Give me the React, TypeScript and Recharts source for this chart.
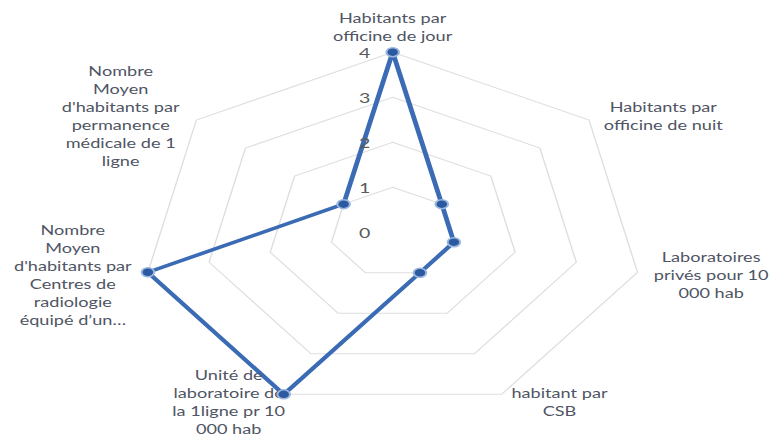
import React from "react";
import {
  RadarChart,
  Radar,
  PolarGrid,
  PolarAngleAxis,
  PolarRadiusAxis,
} from "recharts";

// axis labels, clockwise from the top (lines as Excel wrapped them)
const categories: string[][] = [
  ["Habitants par", "officine de jour"],
  ["Habitants par", "officine de nuit"],
  ["Laboratoires", "privés pour 10", "000 hab"],
  ["habitant par", "CSB"],
  ["Unité de", "laboratoire de", "la 1ligne pr 10", "000 hab"],
  ["Nombre", "Moyen", "d'habitants par", "Centres de", "radiologie", "équipé d’un…"],
  ["Nombre", "Moyen", "d'habitants par", "permanence", "médicale de 1", "ligne"],
];
const values = [4, 1, 1, 1, 4, 4, 1];
const radiusTicks = [0, 1, 2, 3, 4];

const data = categories.map((lines, i) => ({
  key: String(i),
  value: values[i],
}));

// the source picture is stretched sideways, so draw narrow then scale
const SX = 1.395;
const W = 778 / SX;
const H = 436;
const CX = 281.5;
const CY = 232.2;
const R = 180;

const TEXT = "#4f5564";
const BLUE = "#3a6bb4";
const FONT = "Lato, 'Open Sans', sans-serif";
const LINE_H = 18;

// nudge of each label block from the library's tick point
const labelShift = [
  [0, -18],
  [47, 0],
  [45, 0],
  [38, 0],
  [-36, 0],
  [-46, 0],
  [-48, 0],
];

function AngleTick(props: any) {
  const { x, y, index } = props;
  const lines = categories[index] || [];
  const [dx, dy] = labelShift[index] || [0, 0];
  const top = y + dy - ((lines.length - 1) * LINE_H) / 2;
  return (
    <text
      x={x + dx}
      y={top}
      textAnchor="middle"
      dominantBaseline="central"
      fill={TEXT}
      fontSize={13}
      fontFamily={FONT}
    >
      {lines.map((l, i) => (
        <tspan key={i} x={x + dx} y={top + i * LINE_H}>
          {l}
        </tspan>
      ))}
    </text>
  );
}

function RadiusTick(props: any) {
  const { x, y, payload } = props;
  return (
    <text
      x={x - 20}
      y={y}
      textAnchor="middle"
      dominantBaseline="central"
      fill="#5a5a5a"
      fontSize={14}
      fontFamily={FONT}
    >
      {payload.value}
    </text>
  );
}

export default function App() {
  return (
    <div
      style={{
        position: "absolute",
        left: 0,
        top: 0,
        width: 778,
        height: 436,
        overflow: "hidden",
        background: "#ffffff",
      }}
    >
      <div style={{ width: W, height: H, transform: `scaleX(${SX})`, transformOrigin: "0 0" }}>
        <RadarChart
          width={W}
          height={H}
          data={data}
          cx={CX}
          cy={CY}
          outerRadius={R}
          margin={{ top: 0, right: 0, bottom: 0, left: 0 }}
        >
          <PolarGrid gridType="polygon" radialLines={false} stroke="#dedede" strokeWidth={1} />
          <PolarAngleAxis dataKey="key" tick={<AngleTick />} tickLine={false} axisLine={false} />
          <PolarRadiusAxis
            angle={90}
            domain={[0, 4]}
            ticks={radiusTicks as any}
            tickCount={5}
            axisLine={false}
            tick={<RadiusTick />}
          />
          <Radar
            dataKey="value"
            stroke={BLUE}
            strokeWidth={3.5}
            fill="none"
            fillOpacity={0}
            dot={{ r: 4.5, fill: "#2c5aa0", stroke: "#9bb7de", strokeWidth: 1.5, fillOpacity: 1 }}
            isAnimationActive={false}
          />
        </RadarChart>
      </div>
    </div>
  );
}
